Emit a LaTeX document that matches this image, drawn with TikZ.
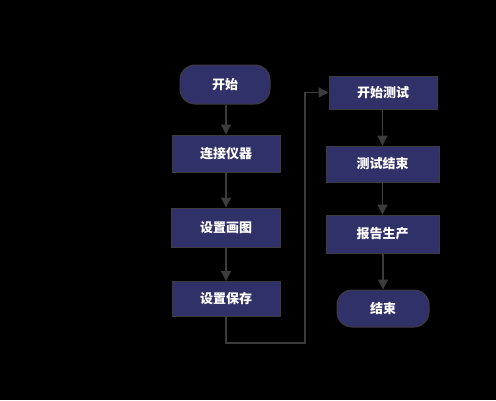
\documentclass[tikz,border=0pt]{standalone}
\usepackage{fontspec}
\newfontfamily\cjk{Noto Sans CJK SC}
\usetikzlibrary{arrows.meta}
\definecolor{boxfill}{HTML}{31316A}
\definecolor{edgegray}{HTML}{3C3C3C}
\begin{document}
\begin{tikzpicture}[x=1pt,y=-1pt,
  proc/.style={draw=edgegray,line width=1pt,fill=boxfill,text=white,
    font=\cjk\bfseries\fontsize{13}{15}\selectfont,inner sep=0pt},
  term/.style={proc,rounded corners=15pt},
  conn/.style={draw=edgegray,line width=1.3pt,-{Triangle[length=10pt,width=10pt]}}]
\useasboundingbox (0,0) rectangle (496,400);
\fill[black] (0,0) rectangle (496,400);
\node[term,minimum width=90pt,minimum height=39pt] (s) at (225,84.5) {开始};
\node[proc,minimum width=108pt,minimum height=37pt] (a) at (226,153.5) {连接仪器};
\node[proc,minimum width=109pt,minimum height=39pt] (b) at (226,227.5) {设置画图};
\node[proc,minimum width=108pt,minimum height=35pt] (c) at (226,299) {设置保存};
\node[proc,minimum width=108pt,minimum height=33pt] (d) at (383,92.5) {开始测试};
\node[proc,minimum width=113pt,minimum height=36pt] (e) at (382.5,164) {测试结束};
\node[proc,minimum width=113pt,minimum height=38pt] (f) at (382.5,234) {报告生产};
\node[term,minimum width=92pt,minimum height=37pt] (g) at (383,308.5) {结束};
\coordinate (p1) at (226,343);
\coordinate (p2) at (305,343);
\coordinate (p3) at (305,92.5);
\draw[conn] (s.south -| a.north) -- (a.north);
\draw[conn] (a) -- (b);
\draw[conn] (b) -- (c);
\draw[conn] (c.south) -- (p1) -- (p2) -- (p3) -- (d.west);
\draw[conn] (d.south -| e.north) -- (e.north);
\draw[conn] (e) -- (f);
\draw[conn] (f.south -| g.north) -- (g.north);
\end{tikzpicture}
\end{document}
